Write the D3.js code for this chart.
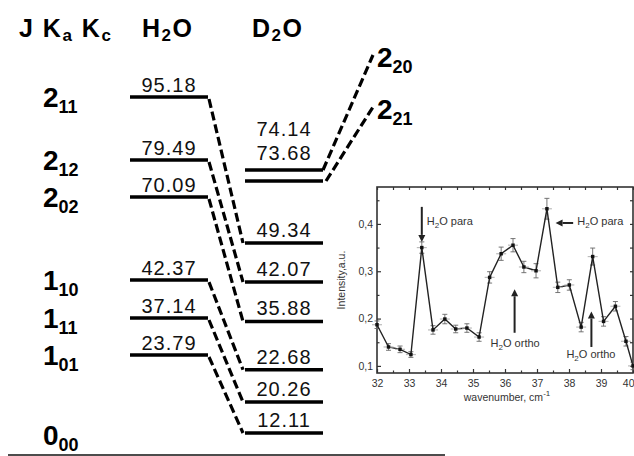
<!DOCTYPE html>
<html>
<head>
<meta charset="utf-8">
<script src="https://cdn.jsdelivr.net/npm/d3@7"></script>
<style>
  body { margin: 0; background: #fff; }
  svg { display: block; font-family: "Liberation Sans", Arial, sans-serif; }
</style>
</head>
<body>
<div id="chart"></div>
<script>
// ---- level diagram data (energies in cm-1) ----
const states = ["2_11", "2_12", "2_02", "1_10", "1_11", "1_01", "0_00"];
const h2oEnergy = [95.18, 79.49, 70.09, 42.37, 37.14, 23.79, 0];
const d2oEnergy = [49.34, 42.07, 35.88, 22.68, 20.26, 12.11, 0];
// levels whose H2O energy is off the top of the diagram
const upperStates = ["2_20", "2_21"];
const upperD2oEnergy = [74.14, 73.68];

// ---- inset spectrum data ----
const wavenumber = [32.0, 32.36, 32.72, 33.06, 33.40, 33.75, 34.12, 34.46, 34.81, 35.19, 35.52, 35.88,
                    36.25, 36.59, 36.97, 37.31, 37.65, 38.01, 38.38, 38.74, 39.08, 39.45, 39.78, 40.0];
const intensity = [0.187, 0.140, 0.135, 0.124, 0.350, 0.176, 0.199, 0.178, 0.180, 0.161, 0.287, 0.337,
                   0.355, 0.309, 0.301, 0.432, 0.266, 0.271, 0.182, 0.331, 0.194, 0.226, 0.152, 0.100];
const intensityErr = [0.008, 0.007, 0.007, 0.006, 0.012, 0.009, 0.010, 0.008, 0.009, 0.009, 0.012, 0.014,
                      0.014, 0.012, 0.015, 0.022, 0.011, 0.011, 0.010, 0.018, 0.010, 0.010, 0.010, 0.008];
// arrows: which peak they mark and what they say
const annotWavenumber = [33.40, 37.31, 36.30, 38.70];
const annotSpin = ["para", "para", "ortho", "ortho"];

const width = 634, height = 456;
const svg = d3.select("#chart").append("svg")
    .attr("width", width)
    .attr("height", height);

// ================= energy level diagram =================
// schematic (not to scale) energy axis, spaced by hand as in the original figure
const yE = d3.scaleLinear()
    .domain([0, 12.11, 20.26, 23.79, 37.14, 42.2, 49.34, 70.09, 73.68, 74.14, 79.49, 95.18])
    .range([455, 433, 402, 355, 318, 281, 243, 197, 181, 170, 160, 97]);

const colH2O = [130, 208], colD2O = [245, 323];
const colLabel = 43, colUpper = 373;
const yUpper = d3.scalePoint().domain(upperStates).range([55, 107]);

const diagram = svg.append("g");

// headers
const hdr = diagram.append("g")
    .attr("font-size", 25)
    .attr("font-weight", "bold")
    .attr("letter-spacing", 1.5);
const t1 = hdr.append("text").attr("x", 19).attr("y", 37);
t1.append("tspan").text("J K");
t1.append("tspan").attr("font-size", 17).attr("dy", 4).text("a");
t1.append("tspan").attr("dy", -4).text(" K");
t1.append("tspan").attr("font-size", 17).attr("dy", 4).text("c");

[["H", 142], ["D", 252]].forEach(([el, x]) => {
    const t = hdr.append("text").attr("x", x).attr("y", 37);
    t.append("tspan").text(el);
    t.append("tspan").attr("font-size", 17).attr("dy", 4).text("2");
    t.append("tspan").attr("dy", -4).text("O");
});

// state labels like 2 with subscript 11
function stateLabel(g, name, x, y) {
    const [j, k] = name.split("_");
    const t = g.append("text")
        .attr("x", x).attr("y", y)
        .attr("font-weight", "bold");
    t.append("tspan").attr("font-size", 28).text(j);
    t.append("tspan").attr("font-size", 18).attr("dy", 6).text(k);
}

states.forEach((s, i) => {
    const y = h2oEnergy[i] === 0 ? yE(0) - 10 : yE(h2oEnergy[i]) + 10;
    stateLabel(diagram, s, colLabel, y);
});
upperStates.forEach(s => stateLabel(diagram, s, colUpper + 4, yUpper(s) + 12));

// ground level baseline
diagram.append("line")
    .attr("x1", 8).attr("x2", 445)
    .attr("y1", yE(0)).attr("y2", yE(0))
    .attr("stroke", "#111").attr("stroke-width", 1.5);

const levels = states.map((s, i) => ({ s, h: h2oEnergy[i], d: d2oEnergy[i] }))
    .filter(l => l.h > 0);

// H2O levels
diagram.selectAll(".h2o")
    .data(levels)
    .join("line")
    .attr("x1", colH2O[0]).attr("x2", colH2O[1])
    .attr("y1", d => yE(d.h)).attr("y2", d => yE(d.h))
    .attr("stroke", "#000").attr("stroke-width", 3.5);

// D2O levels
const d2oAll = levels.map(l => l.d).concat(upperD2oEnergy);
diagram.selectAll(".d2o")
    .data(d2oAll)
    .join("line")
    .attr("x1", colD2O[0]).attr("x2", colD2O[1])
    .attr("y1", d => yE(d)).attr("y2", d => yE(d))
    .attr("stroke", "#000").attr("stroke-width", 3.5);

// dashed correlation lines H2O -> D2O
diagram.selectAll(".link")
    .data(levels)
    .join("line")
    .attr("x1", colH2O[1] + 1).attr("x2", colD2O[0] - 2)
    .attr("y1", d => yE(d.h) + 2).attr("y2", d => yE(d.d))
    .attr("stroke", "#000").attr("stroke-width", 3.2)
    .attr("stroke-dasharray", "9,4");

// dashed lines from upper D2O levels to off-scale labels
diagram.selectAll(".uplink")
    .data(upperStates)
    .join("line")
    .attr("x1", (d, i) => colD2O[1] + i * 3).attr("x2", colUpper)
    .attr("y1", (d, i) => yE(upperD2oEnergy[i])).attr("y2", d => yUpper(d))
    .attr("stroke", "#000").attr("stroke-width", 3.2)
    .attr("stroke-dasharray", "9,4");

// energy values
const valTxt = diagram.append("g")
    .attr("font-size", 20)
    .attr("letter-spacing", 1)
    .attr("text-anchor", "middle")
    .attr("fill", "#111");
valTxt.selectAll(".hv")
    .data(levels)
    .join("text")
    .attr("x", (colH2O[0] + colH2O[1]) / 2)
    .attr("y", d => yE(d.h) - 5)
    .text(d => d3.format(".2f")(d.h));
valTxt.selectAll(".dv")
    .data(levels)
    .join("text")
    .attr("x", (colD2O[0] + colD2O[1]) / 2)
    .attr("y", d => yE(d.d) - 6)
    .text(d => d3.format(".2f")(d.d));
// the two nearly degenerate upper levels get stacked labels
valTxt.selectAll(".uv")
    .data(upperD2oEnergy)
    .join("text")
    .attr("x", (colD2O[0] + colD2O[1]) / 2)
    .attr("y", (d, i) => yE(upperD2oEnergy[0]) - 10 - (upperD2oEnergy.length - 1 - i) * 24)
    .text(d => d3.format(".2f")(d));

// ================= inset spectrum =================
const inset = { left: 377, right: 633, top: 187, bottom: 373 };
const x = d3.scaleLinear().domain([32, 40]).range([inset.left, inset.right]);
const y = d3.scaleLinear().domain([0.085, 0.478]).range([inset.bottom, inset.top]);
const ink = "#333";

const plot = svg.append("g").attr("font-size", 10.5).attr("fill", ink);

const comma = d => d3.format(".1f")(d).replace(".", ",");

function styleAxis(g) {
    g.select(".domain").remove();
    g.selectAll("line").attr("stroke", ink).attr("stroke-width", 1.2);
    g.selectAll("text").attr("fill", ink).attr("font-family", null).attr("font-size", 10.5);
}

// major + minor ticks on all four sides, pointing inward
const xAxisG = plot.append("g")
    .attr("transform", `translate(0,${inset.bottom})`)
    .call(d3.axisBottom(x).ticks(8).tickSize(-4).tickPadding(7).tickFormat(d3.format("d")))
    .call(styleAxis);
// the last label sits on the window edge, keep it inside
xAxisG.selectAll(".tick").filter(d => d === 40)
    .select("text").attr("text-anchor", "end").attr("dx", 1);
plot.append("g")
    .attr("transform", `translate(0,${inset.bottom})`)
    .call(d3.axisBottom(x).tickValues(d3.range(32.5, 40, 1)).tickSize(-2.5).tickFormat(""))
    .call(styleAxis);
plot.append("g")
    .attr("transform", `translate(0,${inset.top})`)
    .call(d3.axisTop(x).tickValues(d3.range(32, 40.01, 0.5)).tickSize(-3).tickFormat(""))
    .call(styleAxis);
plot.append("g")
    .attr("transform", `translate(${inset.left},0)`)
    .call(d3.axisLeft(y).tickValues([0.1, 0.2, 0.3, 0.4]).tickSize(-4).tickPadding(4).tickFormat(comma))
    .call(styleAxis);
plot.append("g")
    .attr("transform", `translate(${inset.left},0)`)
    .call(d3.axisLeft(y).tickValues([0.15, 0.25, 0.35, 0.45]).tickSize(-2.5).tickFormat(""))
    .call(styleAxis);
plot.append("g")
    .attr("transform", `translate(${inset.right},0)`)
    .call(d3.axisRight(y).tickValues(d3.range(0.1, 0.46, 0.05)).tickSize(-3).tickFormat(""))
    .call(styleAxis);

// frame
plot.append("rect")
    .attr("x", inset.left).attr("y", inset.top)
    .attr("width", inset.right - inset.left)
    .attr("height", inset.bottom - inset.top)
    .attr("fill", "none").attr("stroke", ink).attr("stroke-width", 1.6);

// axis titles
const xt = plot.append("text")
    .attr("x", (inset.left + inset.right) / 2 + 2)
    .attr("y", inset.bottom + 28)
    .attr("text-anchor", "middle");
xt.append("tspan").text("wavenumber, cm");
xt.append("tspan").attr("font-size", 8).attr("dy", -5).text("-1");

plot.append("text")
    .attr("transform", `translate(${inset.left - 32},${(inset.top + inset.bottom) / 2}) rotate(-90)`)
    .attr("text-anchor", "middle")
    .attr("font-size", 10.5)
    .text("Intensity,a.u.");

const pts = wavenumber.map((w, i) => ({ w, v: intensity[i], e: intensityErr[i] }));

// error bars
const eb = plot.append("g").attr("stroke", "#666").attr("stroke-width", 0.9);
eb.selectAll(".eb")
    .data(pts)
    .join("path")
    .attr("d", d => {
        const cx = x(d.w), y0 = y(d.v - d.e), y1 = y(d.v + d.e);
        return `M${cx},${y0}V${y1}M${cx - 2.5},${y0}H${cx + 2.5}M${cx - 2.5},${y1}H${cx + 2.5}`;
    })
    .attr("fill", "none");

// series line
plot.append("path")
    .datum(pts)
    .attr("d", d3.line().x(d => x(d.w)).y(d => y(d.v)))
    .attr("fill", "none")
    .attr("stroke", "#222")
    .attr("stroke-width", 1.4);

// point halos + markers
plot.selectAll(".halo")
    .data(pts)
    .join("line")
    .attr("x1", d => x(d.w) - 5).attr("x2", d => x(d.w) + 5)
    .attr("y1", d => y(d.v)).attr("y2", d => y(d.v))
    .attr("stroke", "#bbb").attr("stroke-width", 1.2);
plot.selectAll(".pt")
    .data(pts)
    .join("path")
    .attr("transform", d => `translate(${x(d.w)},${y(d.v)})`)
    .attr("d", d3.symbol(d3.symbolSquare, 12))
    .attr("fill", "#111");

// annotations
const ann = plot.append("g").attr("font-size", 11).attr("fill", ink);
function h2oLabel(tx, ty, spin) {
    const t = ann.append("text").attr("x", tx).attr("y", ty);
    t.append("tspan").text("H");
    t.append("tspan").attr("font-size", 8).attr("dy", 3).text("2");
    t.append("tspan").attr("dy", -3).text("O " + spin);
}
function arrow(x1, y1, x2, y2) {
    const a = Math.atan2(y2 - y1, x2 - x1), L = 7, W = 3.5;
    ann.append("line")
        .attr("x1", x1).attr("y1", y1)
        .attr("x2", x2 - Math.cos(a) * L).attr("y2", y2 - Math.sin(a) * L)
        .attr("stroke", "#222").attr("stroke-width", 2);
    const bx = x2 - Math.cos(a) * L, by = y2 - Math.sin(a) * L;
    ann.append("path")
        .attr("d", `M${x2},${y2}L${bx - Math.sin(a) * W},${by + Math.cos(a) * W}L${bx + Math.sin(a) * W},${by - Math.cos(a) * W}Z`)
        .attr("fill", "#222");
}

annotWavenumber.forEach((w, i) => {
    const spin = annotSpin[i];
    const cx = x(w);
    if (i === 0) {
        // vertical arrow down onto the first para peak
        arrow(cx, y(0.436), cx, y(0.362));
        h2oLabel(cx + 5, y(0.398), spin);
    } else if (i === 1) {
        // horizontal arrow pointing back at the tallest peak
        arrow(x(w + 0.82), y(0.402), x(w + 0.27), y(0.402));
        h2oLabel(x(w + 0.95), y(0.397), spin);
    } else if (i === 2) {
        arrow(cx, y(0.17), cx, y(0.262));
        h2oLabel(cx - 24, y(0.14), spin);
    } else {
        arrow(cx, y(0.14), cx, y(0.215));
        h2oLabel(cx - 25, y(0.117), spin);
    }
});
</script>
</body>
</html>
